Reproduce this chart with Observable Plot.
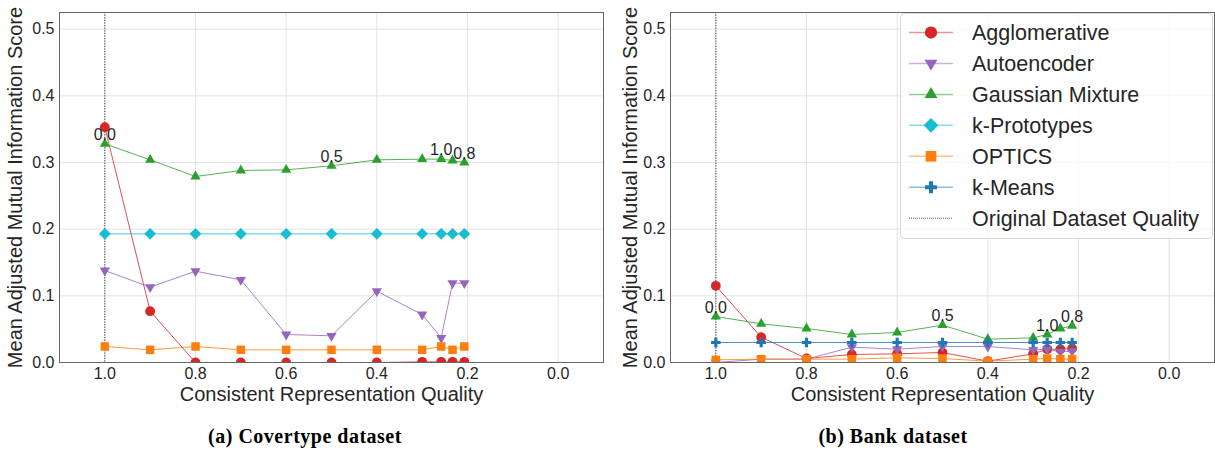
<!DOCTYPE html>
<html>
<head>
<meta charset="utf-8">
<script src="https://cdn.jsdelivr.net/npm/d3@7"></script>
<script src="https://cdn.jsdelivr.net/npm/@observablehq/plot@0.6"></script>
<style>
  html, body { margin: 0; padding: 0; background: #fff; }
  #wrap { position: relative; width: 1215px; height: 450px; overflow: hidden; font-family: "Liberation Sans", Arial, sans-serif; }
  #left { position: absolute; left: 0; top: 0; }
  #right { position: absolute; left: 607px; top: 0; }
  .cap { position: absolute; top: 426px; transform: translateX(-50%); white-space: nowrap;
         font-family: "Liberation Serif", "DejaVu Serif", serif; font-weight: bold; font-size: 20px; line-height: 20px; color: #000; letter-spacing: 0.5px; }
</style>
</head>
<body>
<div id="wrap">
  <div id="left"></div>
  <div id="right"></div>
  <div class="cap" id="capA" style="left:305px"></div>
  <div class="cap" id="capB" style="left:893px"></div>
</div>
<script>
// ---------- data ----------
const methods = ["Agglomerative", "Autoencoder", "Gaussian Mixture", "k-Prototypes", "OPTICS", "k-Means"];
const referenceLabel = "Original Dataset Quality";
const xTicks = [1.0, 0.8, 0.6, 0.4, 0.2, 0.0];
const yTicks = [0.0, 0.1, 0.2, 0.3, 0.4, 0.5];
const originalQuality = [1.0];
const annotationText = ["0.0", "0.5", "1.0", "0.8"];
const annotationIndex = [0, 5, 8, 10];
const xLabel = "Consistent Representation Quality";
const yLabel = "Mean Adjusted Mutual Information Score";
const captions = ["(a) Covertype dataset", "(b) Bank dataset"];

// Covertype dataset
const covQuality       = [1.0, 0.9, 0.8, 0.7, 0.6, 0.5, 0.4, 0.3, 0.258, 0.233, 0.207];
const covAgglomerative = [0.353, 0.077, 0.000, 0.000, 0.000, 0.000, 0.000, 0.001, 0.001, 0.001, 0.001];
const covAutoencoder   = [0.138, 0.113, 0.137, 0.124, 0.042, 0.040, 0.107, 0.072, 0.037, 0.119, 0.119];
const covGaussian      = [0.328, 0.304, 0.279, 0.288, 0.289, 0.295, 0.304, 0.305, 0.305, 0.303, 0.300];
const covPrototypes    = [0.193, 0.193, 0.193, 0.193, 0.193, 0.193, 0.193, 0.193, 0.193, 0.193, 0.193];
const covOptics        = [0.024, 0.019, 0.024, 0.019, 0.019, 0.019, 0.019, 0.019, 0.024, 0.019, 0.024];

// Bank dataset
const bankQuality       = [1.0, 0.9, 0.8, 0.7, 0.6, 0.5, 0.4, 0.3, 0.269, 0.240, 0.214];
const bankAgglomerative = [0.115, 0.038, 0.006, 0.012, 0.013, 0.015, 0.002, 0.013, 0.020, 0.020, 0.021];
const bankAutoencoder   = [0.000, 0.005, 0.005, 0.023, 0.020, 0.024, 0.024, 0.019, 0.020, 0.016, 0.017];
const bankGaussian      = [0.069, 0.058, 0.051, 0.042, 0.045, 0.056, 0.035, 0.037, 0.042, 0.051, 0.055];
const bankOptics        = [0.004, 0.005, 0.005, 0.005, 0.007, 0.006, 0.002, 0.005, 0.006, 0.005, 0.005];
const bankKMeans        = [0.030, 0.030, 0.030, 0.030, 0.030, 0.030, 0.030, 0.030, 0.030, 0.030, 0.030];

// ---------- styles ----------
const colors    = ["#d62728", "#9467bd", "#2ca02c", "#17becf", "#ff7f0e", "#1f77b4"];
const symbols   = ["circle", "triangle", "triangle", "diamond2", "square", "cross"];
const d3symbols = [d3.symbolCircle, d3.symbolTriangle, d3.symbolTriangle, d3.symbolDiamond2, d3.symbolSquare, d3.symbolCross];
const rotations = [0, 180, 0, 0, 0, 0];
const radii     = [4.9, 3.8, 3.8, 5.3, 4.8, 4.0];
const textColor = "#262626";
const fmt = d3.format(".1f");

function seriesMarks(quality, seriesList) {
  const marks = [];
  for (const [method, values] of seriesList) {
    const i = methods.indexOf(method);
    const data = quality.map((q, k) => ({q, v: values[k]}));
    marks.push(Plot.line(data, {x: "q", y: "v", stroke: colors[i], strokeWidth: 1, strokeOpacity: 0.8, clip: true}));
    marks.push(Plot.dot(data, {x: "q", y: "v", fill: colors[i], symbol: symbols[i], r: radii[i], rotate: rotations[i], clip: true}));
  }
  return marks;
}

function panel(quality, seriesList, gaussian, opts) {
  const ann = annotationIndex.map((k, j) => ({q: quality[k], v: gaussian[k], t: annotationText[j]}));
  return Plot.plot({
    width: opts.width, height: 405,
    marginLeft: opts.marginLeft, marginRight: opts.marginRight, marginTop: 12, marginBottom: 43,
    x: {domain: [1.1, -0.1]},
    y: {domain: [0, 0.525]},
    style: {fontFamily: "'Liberation Sans', Arial, sans-serif", fontSize: "16px", color: textColor, background: "transparent", overflow: "visible"},
    marks: [
      Plot.gridX(xTicks, {stroke: "#e3e3e3", strokeOpacity: 1, strokeWidth: 1}),
      Plot.gridY(yTicks, {stroke: "#e3e3e3", strokeOpacity: 1, strokeWidth: 1}),
      Plot.ruleX(originalQuality, {stroke: "#222", strokeWidth: 0.9, strokeDasharray: "1.2,1.4"}),
      ...seriesMarks(quality, seriesList),
      Plot.text(ann, {x: "q", y: "v", text: "t", lineAnchor: "bottom", dy: -4, fontSize: 16, fill: textColor}),
      Plot.frame({stroke: "#666", strokeWidth: 1}),
      Plot.axisX({ticks: xTicks, tickFormat: fmt, tickSize: 0, tickPadding: 5, fontSize: 16, label: null}),
      Plot.axisY({ticks: yTicks, tickFormat: fmt, tickSize: 0, tickPadding: 5, fontSize: 16, label: null}),
      Plot.text([xLabel], {text: d => d, frameAnchor: "bottom", textAnchor: "middle", dy: 24, lineAnchor: "top", fontSize: 20, fill: textColor}),
      Plot.text([yLabel], {text: d => d, frameAnchor: "left", textAnchor: "middle", dx: opts.yLabelDx, rotate: -90, lineAnchor: "top", fontSize: 20, fill: textColor})
    ]
  });
}

document.getElementById("left").append(panel(covQuality, [
  ["Agglomerative", covAgglomerative],
  ["Autoencoder", covAutoencoder],
  ["Gaussian Mixture", covGaussian],
  ["k-Prototypes", covPrototypes],
  ["OPTICS", covOptics]
], covGaussian, {width: 607, marginLeft: 59, marginRight: 4, yLabelDx: -52}));

document.getElementById("right").append(panel(bankQuality, [
  ["Agglomerative", bankAgglomerative],
  ["Autoencoder", bankAutoencoder],
  ["Gaussian Mixture", bankGaussian],
  ["OPTICS", bankOptics],
  ["k-Means", bankKMeans]
], bankGaussian, {width: 608, marginLeft: 63, marginRight: 1, yLabelDx: -48}));

document.getElementById("capA").textContent = captions[0];
document.getElementById("capB").textContent = captions[1];

// ---------- legend (inside right panel, top right) ----------
const leg = d3.select("#wrap").append("svg")
  .attr("width", 314).attr("height", 227)
  .style("position", "absolute").style("left", "900px").style("top", "13px")
  .style("font-family", "'Liberation Sans', Arial, sans-serif");
leg.append("rect").attr("x", 0.5).attr("y", 0.5).attr("width", 312).attr("height", 225).attr("rx", 4)
  .attr("fill", "#fff").attr("fill-opacity", 0.8).attr("stroke", "#d9d9d9");
const entries = methods.map((m, i) => ({label: m, i})).concat([{label: referenceLabel, i: -1}]);
entries.forEach((e, k) => {
  const cy = 19.5 + k * 30.95;
  const g = leg.append("g");
  if (e.i >= 0) {
    g.append("line").attr("x1", 9).attr("x2", 53).attr("y1", cy).attr("y2", cy)
      .attr("stroke", colors[e.i]).attr("stroke-opacity", 0.5).attr("stroke-width", 1.5);
    const r = radii[e.i] * 1.25;
    g.append("path").attr("d", d3.symbol(d3symbols[e.i], Math.PI * r * r)())
      .attr("transform", `translate(31,${cy}) rotate(${rotations[e.i]})`)
      .attr("fill", colors[e.i]);
  } else {
    g.append("line").attr("x1", 9).attr("x2", 53).attr("y1", cy).attr("y2", cy)
      .attr("stroke", "#444").attr("stroke-width", 0.9).attr("stroke-dasharray", "1,1");
  }
  g.append("text").attr("x", 72).attr("y", cy).attr("dy", "0.35em")
    .attr("font-size", 21.5).attr("fill", textColor).text(e.label);
});
</script>
</body>
</html>
